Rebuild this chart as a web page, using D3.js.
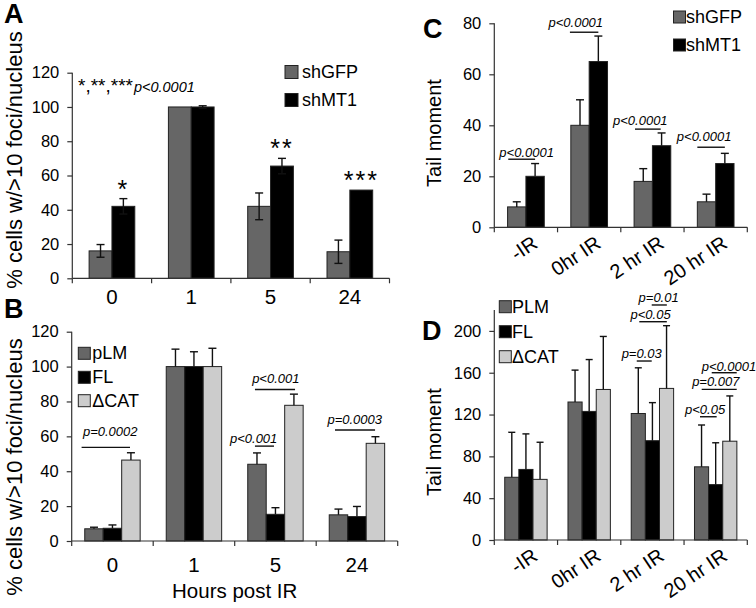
<!DOCTYPE html>
<html><head><meta charset="utf-8">
<script src="https://cdn.jsdelivr.net/npm/d3@7"></script>
<style>body{margin:0;background:#fff}svg{font-family:"Liberation Sans",Arial,Helvetica,sans-serif}</style>
</head><body>
<svg id="chart" width="756" height="608"></svg>
<script>
// ---------- DATA ----------
const hoursCats = ["0", "1", "5", "24"];
const irCats = ["-IR", "0hr IR", "2 hr IR", "20 hr IR"];

// Panel A
const aGFP = [16, 100, 42, 15.5];
const aGFPErr = [3.7, 0, 7.8, 6.8];
const aMT1 = [42, 100, 65.5, 51.5];
const aMT1Err = [4.5, 0.7, 4.5, 0];
const aStars = ["*", "", "**", "***"];

// Panel B
const bPLM = [7, 100, 44, 15];
const bPLMErr = [0.9, 10, 6.5, 3.3];
const bFL = [7.3, 100, 15.3, 14];
const bFLErr = [1.9, 8.5, 3.8, 5.8];
const bCAT = [46.4, 100, 77.8, 56];
const bCATErr = [4.2, 10.5, 6.4, 3.8];

// Panel C
const cGFP = [8, 40, 18, 10];
const cGFPErr = [2, 10, 5, 3];
const cMT1 = [20, 65, 32, 25];
const cMT1Err = [5, 10, 5, 4];

// Panel D
const dPLM = [60, 132, 121, 70];
const dPLMErr = [43, 30.5, 43.7, 40];
const dFL = [67.5, 123, 95, 53];
const dFLErr = [34, 49.6, 36.4, 40];
const dCAT = [58, 144, 145, 94.5];
const dCATErr = [35.5, 50.7, 60, 43.3];

// tick values
const ticks120 = [0, 20, 40, 60, 80, 100, 120];
const ticks80 = [0, 20, 40, 60, 80];
const ticks200 = [0, 40, 80, 120, 160, 200];

// p-value annotations: group, line span (bar units), line y (data), text pos (bar units), text y (data)
const annB = [
  {t: "p=0.0002", g: 0, l: [-0.17, 2.45], ly: 53.7, tx: 1.38, ty: 60.2},
  {t: "p<0.001", g: 2, l: [0.39, 2.56], ly: 86.9, tx: 1.52, ty: 90.5},
  {t: "p<0.001", g: 2, l: [0.39, 1.42], ly: 54.4, tx: 0.32, ty: 56.2},
  {t: "p=0.0003", g: 3, l: [0.31, 2.48], ly: 63.6, tx: 1.38, ty: 66.8}
];
const annC = [
  {t: "p<0.0001", g: 0, l: [0.04, 1.5], ly: 26.7, tx: 1.04, ty: 27.5},
  {t: "p<0.0001", g: 1, l: [-0.05, 1.5], ly: 76.5, tx: 0.27, ty: 78.5},
  {t: "p<0.0001", g: 2, l: [0.05, 1.45], ly: 38.5, tx: 0.34, ty: 40.3},
  {t: "p<0.0001", g: 3, l: [0, 1.5], ly: 31.4, tx: 0.37, ty: 34}
];
const annD = [
  {t: "p=0.01", g: 2, l: [1.45, 2.52], ly: 224.8, tx: 1.94, ty: 227.8},
  {t: "p<0.05", g: 2, l: [0.57, 2.52], ly: 208.8, tx: 1.37, ty: 211.6},
  {t: "p=0.03", g: 2, l: [0.39, 1.45], ly: 171.2, tx: 0.74, ty: 174.3},
  {t: "p<0.0001", g: 3, l: [1.22, 2.99], ly: 160, tx: 2.44, ty: 162.1},
  {t: "p=0.007", g: 3, l: [0.51, 2.99], ly: 144.1, tx: 1.51, ty: 147.1},
  {t: "p<0.05", g: 3, l: [0.39, 1.57], ly: 117.9, tx: 0.75, ty: 120.7}
];

// ---------- STYLE ----------
const DARK = "#666666", BLACK = "#000000", LIGHT = "#cccccc";
const svg = d3.select("#chart");

function panel(cfg) {
  const g = svg.append("g");
  const y = d3.scaleLinear([0, cfg.max], [cfg.y0, cfg.yTop]);
  const x = d3.scaleBand(cfg.cats, [cfg.x0, cfg.x1]).paddingInner(cfg.pad).paddingOuter(cfg.pad / 2);
  const xi = d3.scaleBand(d3.range(cfg.series.length), [0, x.bandwidth()]);
  const bw = xi.bandwidth();

  // bars
  cfg.series.forEach((s, si) => {
    g.selectAll(null).data(s.v).join("rect")
      .attr("x", (d, i) => x(cfg.cats[i]) + xi(si))
      .attr("y", d => y(d))
      .attr("width", bw)
      .attr("height", d => y(0) - y(d))
      .attr("fill", s.c)
      .attr("stroke", "#222").attr("stroke-width", 1);
  });
  // error bars
  cfg.series.forEach((s, si) => {
    s.e.forEach((e, i) => {
      if (!e) return;
      const cx = x(cfg.cats[i]) + xi(si) + bw / 2;
      const top = y(s.v[i] + e);
      const bot = cfg.both ? y(s.v[i] - e) : y(s.v[i]);
      g.append("line").attr("x1", cx).attr("x2", cx).attr("y1", top).attr("y2", bot)
        .attr("stroke", "#111").attr("stroke-width", 1.4);
      g.append("line").attr("x1", cx - cfg.cap).attr("x2", cx + cfg.cap).attr("y1", top).attr("y2", top)
        .attr("stroke", "#111").attr("stroke-width", 1.4);
      if (cfg.both) g.append("line").attr("x1", cx - cfg.cap).attr("x2", cx + cfg.cap).attr("y1", bot).attr("y2", bot)
        .attr("stroke", "#111").attr("stroke-width", 1.4);
    });
  });

  // y axis
  const ya = g.append("g").attr("transform", `translate(${cfg.x0},0)`)
    .call(d3.axisLeft(y).tickValues(cfg.ticks).tickSize(5).tickSizeOuter(0).tickPadding(8));
  ya.select(".domain").attr("d", `M0,${cfg.y0}V${cfg.yTop}`).attr("stroke", "#333").attr("stroke-width", 1.2);
  ya.selectAll(".tick line").attr("stroke", "#333").attr("stroke-width", 1.2);
  ya.selectAll(".tick text").attr("font-size", 16.5).attr("fill", "#000")
    .attr("font-family", '"Liberation Sans",Arial,sans-serif');

  // x axis
  g.append("line").attr("x1", cfg.x0).attr("x2", cfg.x1).attr("y1", cfg.y0).attr("y2", cfg.y0)
    .attr("stroke", "#333").attr("stroke-width", 1.2);
  const step = x.step();
  d3.range(cfg.cats.length + 1).forEach(i => {
    const tx = cfg.x0 + i * step;
    g.append("line").attr("x1", tx).attr("x2", tx).attr("y1", cfg.y0).attr("y2", cfg.y0 + 5)
      .attr("stroke", "#333").attr("stroke-width", 1.2);
  });
  cfg.cats.forEach(c => {
    const cx = x(c) + x.bandwidth() / 2;
    if (cfg.rot) {
      g.append("text").attr("transform", `translate(${cx + 13},${cfg.y0 + 19}) rotate(-34)`)
        .attr("text-anchor", "end").attr("font-size", 20).text(c);
    } else {
      g.append("text").attr("x", cx).attr("y", cfg.y0 + cfg.xlabOff)
        .attr("text-anchor", "middle").attr("font-size", 20.5).text(c);
    }
  });

  // annotations
  (cfg.ann || []).forEach(a => {
    const gx = x(cfg.cats[a.g]);
    g.append("line").attr("x1", gx + a.l[0] * bw).attr("x2", gx + a.l[1] * bw)
      .attr("y1", y(a.ly)).attr("y2", y(a.ly)).attr("stroke", "#111").attr("stroke-width", 1.4);
    g.append("text").attr("x", gx + a.tx * bw).attr("y", y(a.ty))
      .attr("text-anchor", "middle").attr("font-size", 13).attr("font-style", "italic").text(a.t);
  });

  // legend
  cfg.series.forEach((s, si) => {
    const ly = cfg.leg.y[si];
    g.append("rect").attr("x", cfg.leg.x).attr("y", ly - cfg.leg.s / 2).attr("width", cfg.leg.s).attr("height", cfg.leg.s)
      .attr("fill", s.c).attr("stroke", "#222").attr("stroke-width", 1);
    g.append("text").attr("x", cfg.leg.tx).attr("y", ly).attr("dominant-baseline", "central")
      .attr("font-size", cfg.leg.fs).text(s.n);
  });

  // y title
  g.append("text").attr("transform", `translate(${cfg.yt[0]},${cfg.yt[1]}) rotate(-90)`)
    .attr("text-anchor", "middle").attr("dominant-baseline", "central")
    .attr("font-size", cfg.yt[2]).text(cfg.ytitle);
  // panel letter
  g.append("text").attr("x", cfg.letter[0]).attr("y", cfg.letter[1]).attr("font-size", 27)
    .attr("font-weight", "bold").text(cfg.letter[2]);

  return {g, x, y, xi, bw};
}

// Panel A
const A = panel({
  cats: hoursCats, max: 120, ticks: ticks120, x0: 72.3, x1: 389.5, y0: 278.3, yTop: 72.7, pad: 0.424,
  series: [{n: "shGFP", v: aGFP, e: aGFPErr, c: DARK}, {n: "shMT1", v: aMT1, e: aMT1Err, c: BLACK}],
  both: true, cap: 4, xlabOff: 26,
  leg: {x: 285, tx: 302, y: [72, 100], s: 13, fs: 18},
  yt: [14, 160, 22], ytitle: "% cells w/>10 foci/nucleus", letter: [4, 23, "A"]
});
aStars.forEach((s, i) => {
  if (!s) return;
  const cx = A.x(hoursCats[i]) + A.xi(1) + A.bw / 2;
  A.g.append("text").attr("x", cx).attr("y", A.y(aMT1[i] + aMT1Err[i]) - 1)
    .attr("text-anchor", "middle").attr("font-size", 25).attr("letter-spacing", 2).text(s);
});
const starNote = A.g.append("text").attr("x", 78).attr("y", 92).attr("font-size", 19);
starNote.append("tspan").text("*,**,***");
starNote.append("tspan").attr("font-size", 14.5).attr("font-style", "italic").attr("dx", 1).text("p<0.0001");

// Panel B
const B = panel({
  cats: hoursCats, max: 120, ticks: ticks120, x0: 71.7, x1: 397.7, y0: 541, yTop: 331.7, pad: 0.32,
  series: [{n: "pLM", v: bPLM, e: bPLMErr, c: DARK}, {n: "FL", v: bFL, e: bFLErr, c: BLACK}, {n: "\u0394CAT", v: bCAT, e: bCATErr, c: LIGHT}],
  both: false, cap: 4, xlabOff: 31, ann: annB,
  leg: {x: 78.3, tx: 92.3, y: [353.3, 377.3, 400.7], s: 12, fs: 18},
  yt: [14, 467, 22], ytitle: "% cells w/>10 foci/nucleus", letter: [4, 318, "B"]
});
B.g.append("text").attr("x", (71.7 + 397.7) / 2).attr("y", 598).attr("text-anchor", "middle")
  .attr("font-size", 20.5).text("Hours post IR");

// Panel C
panel({
  cats: irCats, max: 80, ticks: ticks80, x0: 494.3, x1: 747.3, y0: 227.3, yTop: 23.3, pad: 0.42,
  series: [{n: "shGFP", v: cGFP, e: cGFPErr, c: DARK}, {n: "shMT1", v: cMT1, e: cMT1Err, c: BLACK}],
  both: false, cap: 4, rot: true, ann: annC,
  leg: {x: 673.5, tx: 686, y: [17, 45], s: 12, fs: 18},
  yt: [434, 133, 20], ytitle: "Tail moment", letter: [423, 38, "C"]
});

// Panel D
panel({
  cats: irCats, max: 220, ticks: ticks200, x0: 494.3, x1: 747.3, y0: 540, yTop: 310, pad: 0.33,
  series: [{n: "PLM", v: dPLM, e: dPLMErr, c: DARK}, {n: "FL", v: dFL, e: dFLErr, c: BLACK}, {n: "\u0394CAT", v: dCAT, e: dCATErr, c: LIGHT}],
  both: false, cap: 3.5, rot: true, ann: annD,
  leg: {x: 499.3, tx: 512, y: [306.7, 331.7, 356.7], s: 12, fs: 18},
  yt: [434, 442, 20], ytitle: "Tail moment", letter: [422, 340, "D"]
});
</script>
</body></html>
